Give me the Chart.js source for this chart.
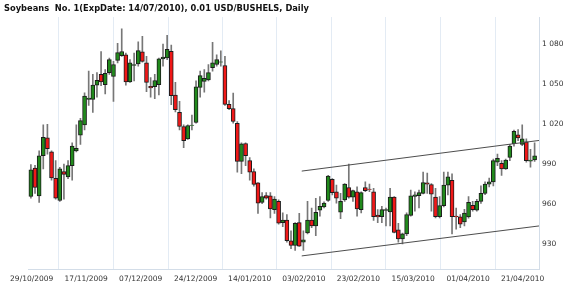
<!DOCTYPE html>
<html>
<head>
<meta charset="utf-8">
<script src="https://cdn.jsdelivr.net/npm/chart.js@4.4.0/dist/chart.umd.min.js"></script>
<style>
  body { margin: 0; background: #fff; }
  #wrap { position: relative; width: 570px; height: 294px; }
  #title { position: absolute; left: 4px; top: 3px; font: bold 8.3px 'DejaVu Sans', sans-serif; color: #111; white-space: pre; line-height: 10px; }
</style>
</head>
<body>
<div id="wrap">
  <canvas id="chart" width="570" height="294"></canvas>
  <div id="title">Soybeans  No. 1(ExpDate: 14/07/2010), 0.01 USD/BUSHELS, Daily</div>
</div>
<script>
// daily OHLC (one entry per bar, 29/10/2009 .. late 04/2010)
const openP = [965.8, 987.1, 966.3, 996.4, 1009.8, 999.3, 979.5, 962.8, 984.6, 980.5,
  989.0, 1000.1, 1011.8, 1019.6, 1038.7, 1038.7, 1049.5, 1057.5, 1049.7, 1058.8,
  1055.9, 1068.0, 1071.5, 1072.2, 1051.9, 1064.2, 1065.4, 1074.4, 1066.1, 1048.5,
  1048.2, 1049.7, 1069.1, 1069.8, 1074.9, 1041.9, 1029.1, 1018.4, 1009.1, 1019.1,
  1021.4, 1047.8, 1052.2, 1053.4, 1062.5, 1064.9, 1066.6, 1064.2, 1035.0, 1031.8,
  1020.8, 992.2, 1005.6, 992.7, 984.6, 976.0, 961.4, 966.5, 966.3, 956.0,
  962.1, 946.2, 948.2, 932.5, 929.0, 946.2, 931.5, 938.4, 948.2, 943.7,
  955.5, 957.9, 962.8, 978.8, 969.4, 954.0, 963.3, 972.6, 965.3, 969.4,
  956.0, 972.6, 971.3, 969.4, 951.8, 950.6, 955.3, 954.2, 965.3, 940.8,
  934.0, 937.7, 951.6, 965.8, 966.5, 968.2, 976.0, 974.8, 965.3, 950.6,
  959.0, 974.4, 978.0, 951.1, 950.6, 946.7, 950.4, 959.2, 955.5, 962.1,
  968.2, 975.1, 976.8, 991.5, 990.7, 986.5, 995.1, 1005.4, 1012.2, 1004.9,
  1006.9, 992.3, 993.2];
const highP = [989.8, 989.3, 1000.1, 1019.6, 1020.1, 1000.1, 992.7, 987.8, 990.2, 992.7,
  1006.2, 1019.6, 1024.5, 1043.6, 1060.0, 1057.5, 1058.8, 1074.7, 1061.2, 1069.8,
  1067.3, 1080.8, 1091.8, 1073.5, 1068.6, 1073.5, 1082.0, 1086.1, 1071.0, 1055.1,
  1057.5, 1069.8, 1080.3, 1086.9, 1079.6, 1051.5, 1037.2, 1019.6, 1019.6, 1026.9,
  1052.6, 1060.0, 1061.2, 1064.9, 1081.6, 1072.2, 1075.2, 1071.0, 1037.9, 1043.4,
  1022.1, 1006.2, 1006.2, 995.1, 986.5, 976.3, 968.7, 968.7, 968.7, 965.8,
  963.3, 953.5, 952.3, 940.1, 946.2, 953.1, 940.1, 962.1, 957.2, 964.5,
  965.8, 961.9, 981.7, 979.2, 974.4, 968.2, 975.5, 990.2, 970.7, 973.1,
  969.4, 976.8, 975.1, 971.9, 956.0, 958.4, 957.2, 971.9, 965.8, 945.7,
  938.4, 953.5, 970.7, 969.4, 970.7, 984.1, 983.4, 975.5, 971.9, 965.8,
  984.1, 984.1, 982.9, 957.2, 952.3, 956.2, 965.8, 962.1, 963.6, 973.8,
  976.8, 979.7, 993.9, 997.6, 992.7, 993.9, 1004.9, 1015.7, 1016.0, 1019.6,
  1009.1, 1001.2, 1006.2];
const lowP = [964.5, 968.2, 961.4, 986.5, 997.6, 978.0, 963.8, 962.1, 963.8, 979.2,
  978.0, 999.3, 1004.9, 1015.9, 1034.3, 1028.9, 1040.4, 1049.0, 1042.9, 1057.5,
  1037.2, 1066.1, 1071.0, 1049.5, 1051.5, 1052.6, 1063.6, 1066.6, 1044.5, 1040.4,
  1039.2, 1042.1, 1063.6, 1068.6, 1034.8, 1029.4, 1015.9, 1002.5, 1008.6, 1015.9,
  1020.8, 1040.4, 1044.1, 1052.6, 1060.0, 1063.6, 1063.6, 1034.3, 1031.1, 1020.8,
  984.1, 982.9, 989.0, 978.0, 973.6, 953.1, 960.4, 963.8, 949.8, 953.1,
  945.0, 943.2, 931.5, 926.6, 925.4, 928.3, 925.4, 937.7, 942.5, 936.4,
  951.1, 957.2, 962.1, 967.0, 960.9, 949.1, 962.1, 964.5, 962.1, 951.1,
  953.5, 969.4, 969.4, 947.9, 946.2, 946.2, 943.7, 943.7, 938.4, 931.5,
  930.3, 936.4, 951.1, 954.8, 957.2, 967.8, 968.2, 954.8, 949.8, 949.8,
  957.9, 967.0, 937.7, 941.3, 942.5, 943.7, 949.6, 954.8, 954.8, 960.6,
  967.2, 973.1, 973.8, 989.0, 981.7, 986.1, 992.7, 1003.7, 1007.8, 1004.0,
  991.5, 987.8, 992.2];
const closeP = [985.8, 972.6, 996.4, 1010.3, 1001.7, 979.7, 964.5, 986.5, 982.4, 989.0,
  1003.7, 1002.0, 1022.8, 1041.2, 1039.7, 1049.5, 1053.1, 1051.9, 1058.3, 1068.6,
  1064.9, 1073.9, 1074.7, 1051.9, 1066.1, 1064.9, 1075.4, 1067.3, 1051.5, 1047.3,
  1052.9, 1069.1, 1070.5, 1076.4, 1041.6, 1031.1, 1018.4, 1007.8, 1019.1, 1019.4,
  1048.2, 1056.6, 1054.6, 1058.8, 1066.1, 1068.6, 1066.9, 1035.0, 1031.8, 1022.1,
  992.2, 1005.4, 996.4, 984.1, 974.8, 960.9, 965.8, 964.5, 956.4, 963.8,
  945.7, 948.2, 932.7, 929.0, 945.7, 928.5, 933.2, 948.2, 943.7, 954.0,
  958.4, 960.9, 981.2, 968.7, 964.5, 962.1, 975.1, 965.3, 970.2, 956.4,
  968.7, 970.2, 971.1, 950.6, 950.4, 956.0, 956.0, 965.3, 938.8, 934.0,
  937.7, 952.3, 966.3, 967.0, 968.7, 976.3, 975.1, 967.5, 950.6, 959.0,
  974.4, 980.5, 950.6, 950.4, 945.0, 953.3, 961.4, 956.0, 962.1, 968.2,
  975.1, 976.8, 992.7, 994.4, 986.5, 993.2, 1003.7, 1014.7, 1009.8, 1009.1,
  992.7, 993.2, 996.4];

// date labels on the x axis and the bar position each one sits at
const dateLabels = ['29/10/2009', '17/11/2009', '07/12/2009', '24/12/2009', '14/01/2010',
  '03/02/2010', '23/02/2010', '15/03/2010', '01/04/2010', '21/04/2010'];
const dateTickPos = [0.2, 13.4, 26.6, 39.9, 53.0, 66.1, 79.3, 92.6, 105.9, 119.1];

const priceTicks = [930, 960, 990, 1020, 1050, 1080];

// trend channel drawn on the chart (bar index, price)
const chanX = [65.6, 123.07];
const chanUpper = [984.9, 1007.9];
const chanLower = [921.2, 943.7];

const idx = openP.map((_, i) => i);
const isUp = idx.map(i => closeP[i] >= openP[i]);

function fmtPrice(v) {
  if (v < 1000) return String(v);
  return Math.floor(v / 1000) + ' ' + String(v % 1000).padStart(3, '0');
}

const axisFont = { family: 'DejaVu Sans', size: 7.5 };

new Chart(document.getElementById('chart'), {
  type: 'bar',
  data: {
    datasets: [
      {
        type: 'line',
        data: chanX.map((x, i) => ({ x: x, y: chanUpper[i] })),
        borderColor: '#4d4d4d', borderWidth: 1, pointRadius: 0, order: 0
      },
      {
        type: 'line',
        data: chanX.map((x, i) => ({ x: x, y: chanLower[i] })),
        borderColor: '#4d4d4d', borderWidth: 1, pointRadius: 0, order: 0
      },
      {
        data: idx.map(i => ({ x: i, y: [openP[i], closeP[i]] })),
        backgroundColor: idx.map(i => isUp[i] ? '#218a1c' : '#f01818'),
        borderColor: '#1b1b1b',
        borderWidth: 1,
        borderSkipped: false,
        barThickness: 4,
        grouped: false,
        order: 1
      },
      {
        data: idx.map(i => ({ x: i, y: [lowP[i], highP[i]] })),
        backgroundColor: '#777777',
        barThickness: 1,
        grouped: false,
        order: 2
      }
    ]
  },
  options: {
    responsive: false,
    animation: false,
    devicePixelRatio: 1,
    layout: { padding: { left: 28, top: 17, right: 3.5, bottom: 4.5 } },
    plugins: {
      legend: { display: false },
      tooltip: { enabled: false }
    },
    scales: {
      x: {
        type: 'linear',
        min: -0.7,
        max: 123.07,
        offset: false,
        grid: { color: '#e3ebf4', drawTicks: false },
        border: { display: true, color: '#d3dde8' },
        afterBuildTicks: s => { s.ticks = dateTickPos.map(v => ({ value: v })); },
        ticks: {
          autoSkip: false, maxRotation: 0, padding: 5.5,
          color: '#333', font: axisFont,
          callback: (v, i) => dateLabels[i]
        }
      },
      y: {
        position: 'right',
        min: 911,
        max: 1100.6,
        grid: { display: false, drawTicks: false },
        border: { display: true, color: '#d3dde8' },
        afterBuildTicks: s => { s.ticks = priceTicks.map(v => ({ value: v })); },
        ticks: {
          padding: 3, color: '#333', font: axisFont,
          callback: v => fmtPrice(v)
        }
      }
    }
  }
});
</script>
</body>
</html>
